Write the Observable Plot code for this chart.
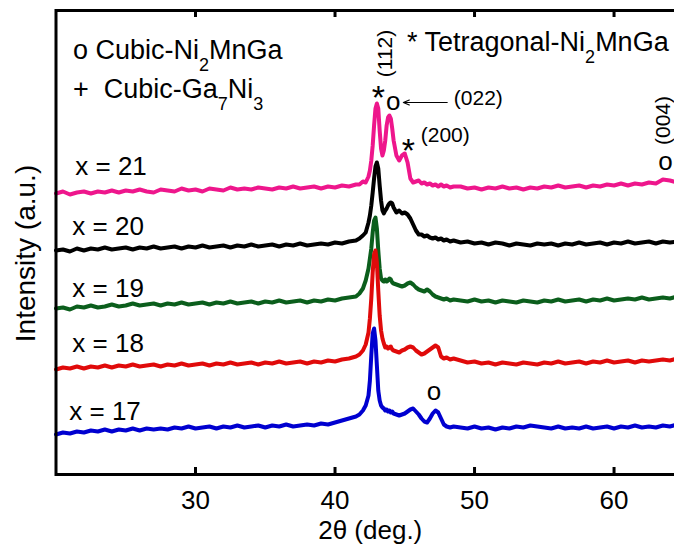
<!DOCTYPE html>
<html><head><meta charset="utf-8">
<script src="https://cdn.jsdelivr.net/npm/d3@7"></script>
<script src="https://cdn.jsdelivr.net/npm/@observablehq/plot@0.6"></script>
<style>html,body{margin:0;padding:0;background:#fff;overflow:hidden}</style>
</head><body><div id="chart"></div>
<script>
// 2θ grid (deg.)
const twoTheta = [
 20,20.5,21,21.5,22,22.5,23,23.5,24,24.5,25,25.5,26,26.5,27,27.5,28,28.5,29,29.5,30,30.5,31,31.5,32,32.5,33,33.5,34,34.5,35,35.5,36,36.5,37,37.5,38,38.5,39,39.5,40,40.5,41,41.5,
 41.75,42,42.2,42.4,42.5,42.6,42.7,42.8,42.9,43.0,43.1,43.2,43.3,43.4,43.5,43.6,43.7,43.8,43.9,44.0,44.1,44.2,44.4,44.6,44.8,45.0,45.2,45.4,45.6,45.8,46.0,46.2,46.4,46.6,46.8,47.0,47.2,47.4,47.6,47.8,48.0,48.25,48.5,
 49,49.5,50,50.5,51,51.5,52,52.5,53,53.5,54,54.5,55,55.5,56,56.5,57,57.5,58,58.5,59,59.5,60,60.5,61,61.5,62,62.5,63,63.5,64,64.5
];
// Intensities (a.u., vertically offset patterns)
const int21 = [
 281,283,280,282,283,281,283,282,284,282,284,283,285,283,282,285,284,283,286,284,285,283,286,285,284,287,285,286,285,287,286,285,287,286,288,286,287,288,286,288,287,289,288,290,
 290,293,292,298,304,314,329,349,366,371,366,344,326,319,324,334,349,357,359,356,346,334,319,314,319,321,312,296,292,293,294,291,292,290,291,289,290,288,290,288,289,287,288,
 288,286,287,285,287,286,288,286,287,285,287,286,288,287,289,287,288,289,287,289,288,290,289,291,289,291,290,292,291,295,294,292
];
const int20 = [
 224,225,223,226,224,226,225,227,225,226,227,225,227,226,228,226,227,228,226,228,227,229,227,228,229,227,229,228,230,228,229,230,228,230,229,231,229,230,231,230,232,231,233,234,
 236,239,242,252,259,269,282,296,308,312,306,289,274,264,261,264,266,269,271,272,271,267,262,264,261,262,260,256,250,244,240,240,238,239,237,236,237,235,236,234,235,233,234,
 232,233,231,232,230,232,231,229,231,230,229,231,230,231,229,231,230,232,230,231,232,230,232,231,233,231,232,233,231,233,232,233
];
const int19 = [
 166,167,165,168,167,169,167,168,170,168,169,171,169,170,171,169,171,170,172,170,171,172,170,172,171,173,171,172,173,171,173,172,174,172,173,174,172,174,173,175,174,176,177,178,
 181,186,194,206,216,226,242,254,257,246,224,206,196,194,193,195,193,194,196,195,192,191,190,189,188,189,191,192,190,187,185,184,183,185,183,180,178,177,176,175,176,174,175,
 174,173,175,173,174,172,174,173,172,174,173,172,174,173,175,173,174,175,173,175,174,176,174,175,176,175,177,175,176,177,176,178
];
const int18 = [
 105,107,106,108,106,108,107,109,107,109,108,110,108,109,110,108,110,109,111,109,110,111,109,111,110,112,110,111,112,110,112,111,113,111,112,113,111,113,112,114,113,115,116,118,
 120,124,130,142,156,176,202,220,224,212,184,159,144,136,131,127,128,126,127,128,125,124,123,122,124,125,127,128,127,124,122,120,121,123,125,127,129,127,118,116,117,115,116,
 114,112,113,111,112,110,112,111,110,112,111,110,112,111,113,111,112,113,111,113,112,114,112,113,114,112,114,113,114,115,114,116
];
const int17 = [
 40,42,41,43,42,44,43,45,43,45,44,46,44,46,45,46,45,47,46,48,46,47,48,46,48,47,49,47,48,49,47,49,48,50,48,49,50,49,51,50,52,54,56,58,
 60,64,69,79,94,119,141,146,134,109,84,74,69,67,66,64,65,63,64,62,63,61,60,59,60,61,63,65,66,63,60,56,53,52,56,61,64,62,56,50,48,47,48,
 47,46,48,46,47,45,47,46,48,47,49,48,47,46,48,46,47,46,48,46,47,48,46,48,47,49,47,48,47,49,48,50
];

const seriesNames = ["x = 21", "x = 20", "x = 19", "x = 18", "x = 17"];
const seriesColors = ["#ee168c", "#000000", "#0b5e1c", "#e00a0a", "#0000d0"];
const seriesValues = [int21, int20, int19, int18, int17];
const labelX = [21.38, 21.17, 21.17, 21.17, 20.95];
const labelY = [308, 248, 186, 131, 63];

const xTicks = [30, 40, 50, 60];

// Peak annotations
const annotText = ["*", "(112)", "o", "(022)", "*", "(200)", "(004)", "o", "o"];
const annotX = [43.1, 43.6, 44.18, 50.27, 45.25, 47.9, 63.54, 63.68, 47.1];
const annotY = [376.5, 421, 372.5, 376, 323.5, 339, 354, 312.5, 82.5];
const annotSize = [34, 21, 26, 21, 34, 21, 21, 26, 26];
const annotRotate = [0, -90, 0, 0, 0, 0, -90, 0, 0];

const arrowFrom = [48.04];
const arrowTo = [44.9];
const arrowAt = [372];

// Phase legend ("_" marks a subscript digit)
const legendText = ["o Cubic-Ni_2MnGa", "+  Cubic-Ga_7Ni_3", "* Tetragonal-Ni_2MnGa"];
const legendDx = [17, 17, 351];
const legendDy = [39.7, 78.7, 31.7];

const rows = seriesNames.flatMap((name, i) => twoTheta.map((t, j) => ({name, t, I: seriesValues[i][j]})));
const labels = seriesNames.map((name, i) => ({name, x: labelX[i], y: labelY[i]}));
const annots = annotText.map((text, i) => ({text, x: annotX[i], y: annotY[i], size: annotSize[i], rot: annotRotate[i]}));
const legend = legendText.map((text, i) => ({text, dx: legendDx[i], dy: legendDy[i]}));

const marks = [
  Plot.line(rows, {x: "t", y: "I", z: "name", stroke: "name", strokeWidth: 4, strokeLinejoin: "round"}),
  Plot.ruleX(xTicks, {y1: 0, y2: 7, strokeWidth: 3}),
  Plot.ruleX(xTicks, {y1: 457, y2: 464, strokeWidth: 3}),
  Plot.frame({strokeWidth: 3}),
  Plot.axisX(xTicks, {tickSize: 0, tickPadding: 16, label: null, fontSize: 26}),
  Plot.text(labels, {x: "x", y: "y", text: "name", textAnchor: "start", lineAnchor: "middle", fontSize: 26}),
  Plot.text(annots, {x: "x", y: "y", text: "text", fontSize: "size", rotate: "rot", lineAnchor: "middle"}),
  Plot.arrow(arrowFrom, {x1: d => d, x2: (d, i) => arrowTo[i], y1: (d, i) => arrowAt[i], y2: (d, i) => arrowAt[i], strokeWidth: 1.2, headLength: 8, headAngle: 45}),
  Plot.text(["Intensity (a.u.)"], {frameAnchor: "left", dx: -30, dy: 11, rotate: -90, textAnchor: "middle", lineAnchor: "middle", fontSize: 28}),
  Plot.text(["2θ (deg.)"], {frameAnchor: "bottom", dy: 56, textAnchor: "middle", lineAnchor: "middle", fontSize: 26}),
  ...legend.map(l => Plot.text([l.text], {frameAnchor: "top-left", dx: l.dx, dy: l.dy, textAnchor: "start", lineAnchor: "middle", fontSize: 27}))
];

const chart = Plot.plot({
  width: 674, height: 547,
  marginLeft: 55.5, marginRight: -10, marginTop: 10, marginBottom: 73,
  x: {domain: [20, 65], range: [55.5, 683.3]},
  y: {domain: [0, 464], axis: null},
  color: {domain: seriesNames, range: seriesColors},
  style: {fontFamily: "'Liberation Sans', Arial, sans-serif", fontSize: "26px", color: "black", background: "white"},
  marks
});

// Subscripts
chart.querySelectorAll("text").forEach(t => {
  const s = t.textContent;
  if (!s.includes("_")) return;
  const parts = s.split(/_(\d)/);
  t.textContent = "";
  parts.forEach((p, k) => {
    if (p === "") return;
    const ts = document.createElementNS("http://www.w3.org/2000/svg", "tspan");
    if (k % 2 === 1) { ts.setAttribute("font-size", "18"); ts.setAttribute("dy", "12"); }
    else if (k > 0) { ts.setAttribute("dy", "-12"); }
    ts.textContent = p;
    t.appendChild(ts);
  });
});

document.getElementById("chart").appendChild(chart);
</script>
</body></html>
